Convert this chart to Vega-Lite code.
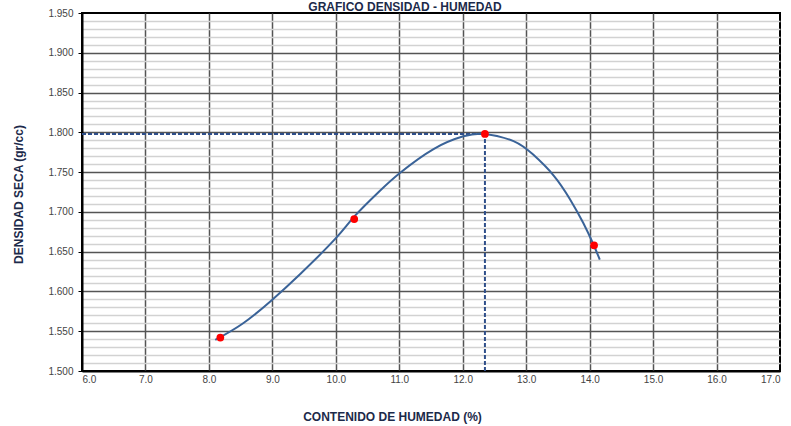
{
  "$schema": "https://vega.github.io/schema/vega-lite/v6.json",
  "width": 698,
  "height": 358,
  "autosize": "none",
  "padding": {"left": 82, "top": 13, "right": 11, "bottom": 55},
  "background": "white",
  "title": {
    "text": "GRAFICO DENSIDAD - HUMEDAD",
    "font": "Liberation Sans",
    "fontSize": 12,
    "fontWeight": "bold",
    "color": "#1c2a4a",
    "offset": 1,
    "dx": -26,
    "dy": 7
  },
  "config": {
    "view": {"stroke": "#000000", "strokeWidth": 2},
    "axis": {
      "labelFont": "Liberation Sans",
      "labelFontSize": 10,
      "labelColor": "#444444",
      "titleFont": "Liberation Sans",
      "titleFontSize": 12,
      "titleFontWeight": "bold",
      "titleColor": "#1c2a4a",
      "domainColor": "#000000",
      "domainWidth": 2,
      "labelOverlap": false
    }
  },
  "datasets": {
    "points": [
      {"x": 8.18, "y": 1.542},
      {"x": 10.29, "y": 1.691},
      {"x": 12.35, "y": 1.798},
      {"x": 14.07, "y": 1.658}
    ],
    "curve": [
      {"x": 8.10, "y": 1.539},
      {"x": 8.54, "y": 1.560},
      {"x": 8.99, "y": 1.589},
      {"x": 9.44, "y": 1.622},
      {"x": 9.99, "y": 1.666},
      {"x": 10.30, "y": 1.695},
      {"x": 10.70, "y": 1.727},
      {"x": 11.01, "y": 1.749},
      {"x": 11.54, "y": 1.779},
      {"x": 12.01, "y": 1.795},
      {"x": 12.35, "y": 1.798},
      {"x": 12.80, "y": 1.789},
      {"x": 13.11, "y": 1.772},
      {"x": 13.43, "y": 1.746},
      {"x": 13.69, "y": 1.716},
      {"x": 13.90, "y": 1.686},
      {"x": 14.06, "y": 1.659},
      {"x": 14.16, "y": 1.640}
    ],
    "guides": [
      {"x": 6.0, "x2": 12.35, "y": 1.798, "y2": 1.798},
      {"x": 12.35, "x2": 12.35, "y": 1.5, "y2": 1.798}
    ]
  },
  "encoding": {
    "x": {
      "field": "x",
      "type": "quantitative",
      "scale": {"domain": [6, 17], "nice": false, "zero": false},
      "axis": {
        "values": [6, 7, 8, 9, 10, 11, 12, 13, 14, 15, 16, 17],
        "format": ".1f",
        "grid": true,
        "gridColor": "#555555",
        "gridWidth": 1.5,
        "gridOpacity": {"condition": {"test": "datum.value < 6.5 || datum.value > 16.5", "value": 0}, "value": 1},
        "ticks": false,
        "tickSize": 0,
        "labelPadding": 3,
        "title": "CONTENIDO DE HUMEDAD (%)",
        "titleX": 310,
        "titleY": 45,
        "titleAlign": "center",
        "titleBaseline": "middle"
      }
    },
    "y": {
      "field": "y",
      "type": "quantitative",
      "scale": {"domain": [1.5, 1.95], "nice": false, "zero": false},
      "axis": {
        "values": [1.50, 1.51, 1.52, 1.53, 1.54, 1.55, 1.56, 1.57, 1.58, 1.59, 1.60, 1.61, 1.62, 1.63, 1.64, 1.65, 1.66, 1.67, 1.68, 1.69, 1.70, 1.71, 1.72, 1.73, 1.74, 1.75, 1.76, 1.77, 1.78, 1.79, 1.80, 1.81, 1.82, 1.83, 1.84, 1.85, 1.86, 1.87, 1.88, 1.89, 1.90, 1.91, 1.92, 1.93, 1.94, 1.95],
        "labelExpr": "round(datum.value * 100) % 5 == 0 ? format(datum.value, '.3f') : ''",
        "grid": true,
        "gridColor": {"condition": {"test": "round(datum.value * 100) % 5 == 0", "value": "#555555"}, "value": "#d2d2d2"},
        "gridWidth": 1.5,
        "gridOpacity": {"condition": {"test": "datum.value < 1.505 || datum.value > 1.945", "value": 0}, "value": 1},
        "tickOpacity": {"condition": {"test": "round(datum.value * 100) % 5 == 0", "value": 1}, "value": 0},
        "tickSize": 4,
        "tickColor": "#000000",
        "labelPadding": 5,
        "title": "DENSIDAD SECA (gr/cc)",
        "titleX": -64,
        "titleY": 181,
        "titleAngle": -90,
        "titleAlign": "center",
        "titleBaseline": "middle"
      }
    }
  },
  "layer": [
    {
      "data": {"name": "guides"},
      "mark": {"type": "rule", "color": "#2f4f8a", "strokeWidth": 2, "strokeDash": [4, 2]},
      "encoding": {
        "x2": {"field": "x2"},
        "y2": {"field": "y2"}
      }
    },
    {
      "data": {"name": "curve"},
      "mark": {"type": "line", "color": "#3a6398", "strokeWidth": 2, "interpolate": "natural"},
      "encoding": {"order": {"field": "x", "type": "quantitative"}}
    },
    {
      "data": {"name": "points"},
      "mark": {"type": "circle", "color": "#ff0000", "opacity": 1, "size": 60}
    }
  ]
}
